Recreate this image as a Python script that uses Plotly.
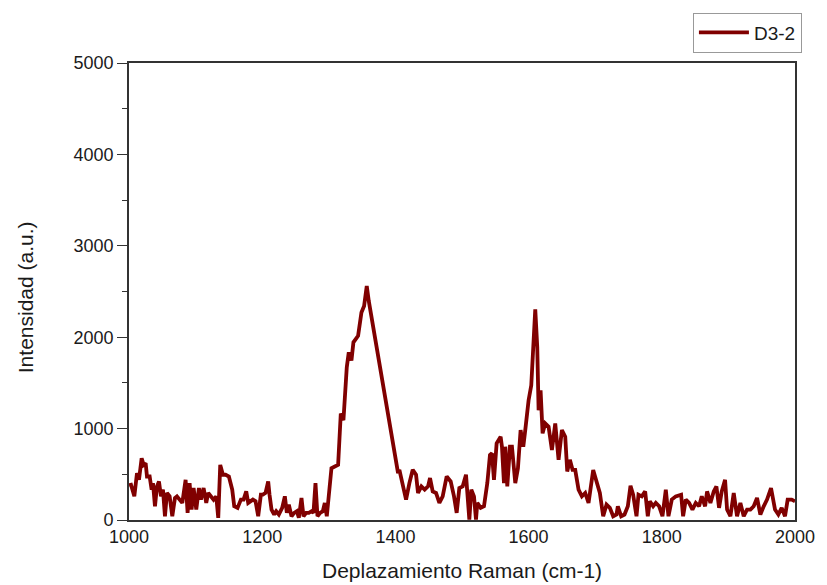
import plotly.graph_objects as go

# Raman shift (cm-1) and intensity (a.u.)
raman_shift = [
    1000, 1003, 1008, 1012, 1015, 1019, 1022, 1025, 1027, 1031, 1034, 1036, 1039, 1042, 1045, 1048,
    1051, 1054, 1057, 1061, 1065, 1069, 1072, 1076, 1080, 1085, 1088, 1091, 1094, 1097, 1101,
    1105, 1108, 1112, 1116, 1119, 1123, 1127, 1131, 1134, 1137, 1141, 1145, 1150, 1155, 1158,
    1163, 1168, 1172, 1176, 1179, 1183, 1186, 1190, 1194, 1198, 1201, 1205, 1209, 1211, 1214,
    1218, 1221, 1225, 1230, 1234, 1237, 1240, 1244, 1248, 1252, 1255, 1259, 1262, 1266, 1270,
    1274, 1277, 1280, 1283, 1287, 1291, 1294, 1297, 1304, 1309, 1314, 1318, 1322, 1327, 1330,
    1334, 1337, 1344, 1349, 1353, 1357, 1360, 1399, 1401, 1404, 1406, 1411, 1416, 1421, 1426,
    1431, 1434, 1439, 1444, 1449, 1452, 1456, 1461, 1466, 1471, 1477, 1483, 1488, 1492, 1496,
    1501, 1506, 1508, 1511, 1514, 1518, 1521, 1523, 1528, 1533, 1538, 1542, 1545, 1548, 1552,
    1558, 1560, 1563, 1565, 1568, 1572, 1575, 1580, 1584, 1588, 1592, 1595, 1600, 1604, 1607,
    1610, 1613, 1615, 1618, 1621, 1625, 1630, 1635, 1640, 1645, 1650, 1655, 1658, 1662, 1666,
    1670, 1675, 1680, 1685, 1690, 1697, 1702, 1707, 1712, 1717, 1722, 1727, 1732, 1734, 1739,
    1744, 1749, 1753, 1757, 1762, 1765, 1770, 1775, 1779, 1782, 1787, 1791, 1796, 1801, 1806,
    1810, 1815, 1821, 1829, 1832, 1836, 1841, 1846, 1851, 1856, 1860, 1865, 1868, 1873, 1878,
    1882, 1886, 1890, 1895, 1898, 1903, 1908, 1913, 1918, 1923, 1928, 1933, 1938, 1943, 1948,
    1953, 1958, 1964, 1970, 1975, 1980, 1985, 1989, 1995, 2000,
]
intensity = [
    380, 386, 259, 513, 440, 676, 603, 622, 476, 476, 332, 404, 150, 368, 422, 259,
    332, 41, 296, 259, 41, 241, 259, 223, 187, 440, 78, 404, 114, 350, 114,
    350, 223, 350, 187, 296, 259, 223, 259, 24, 603, 495, 495, 476, 332, 150,
    133, 223, 223, 313, 187, 205, 223, 205, 41, 277, 277, 296, 422, 277, 114,
    60, 96, 60, 133, 259, 78, 168, 41, 78, 96, 24, 241, 41, 78, 78,
    96, 78, 404, 41, 78, 96, 187, 41, 567, 585, 603, 1165, 1092, 1672, 1835,
    1745, 1944, 2016, 2270, 2342, 2560, 2397, 712, 585, 513, 549, 404, 223, 404, 549,
    495, 296, 368, 332, 368, 459, 313, 296, 187, 259, 476, 422, 259, 78, 350,
    368, 495, 296, 5, 332, 259, 5, 187, 133, 150, 404, 712, 730, 440, 839,
    911, 802, 404, 802, 368, 802, 802, 404, 567, 984, 802, 984, 1310, 1473, 1889,
    2306, 1889, 1201, 1419, 948, 1056, 1020, 766, 1056, 658, 984, 911, 531, 658, 549,
    549, 332, 259, 296, 187, 548, 422, 296, 41, 168, 133, 41, 60, 150, 41,
    60, 150, 375, 277, 41, 277, 259, 313, 41, 205, 150, 187, 150, 41, 332,
    41, 223, 259, 277, 41, 223, 187, 114, 187, 150, 259, 150, 313, 187, 313,
    368, 133, 313, 440, 114, 41, 296, 41, 187, 41, 114, 114, 150, 241, 60,
    150, 223, 350, 114, 60, 133, 41, 223, 223, 205,
]

series_name = "D3-2"
x_title = "Deplazamiento Raman (cm-1)"
y_title = "Intensidad (a.u.)"
x_ticks = [1000, 1200, 1400, 1600, 1800, 2000]
y_ticks = [0, 1000, 2000, 3000, 4000, 5000]

FONT = "Liberation Sans, Arial, sans-serif"
AXIS_COLOR = "#333333"
TEXT_COLOR = "#1a1a1a"

fig = go.Figure()
fig.add_trace(go.Scatter(
    x=raman_shift, y=intensity, mode="lines", name=series_name,
    line=dict(color="#800000", width=3.8),
))

fig.update_layout(
    width=827, height=585,
    margin=dict(l=129, r=27, t=60, b=65),
    paper_bgcolor="white", plot_bgcolor="white",
    font=dict(family=FONT, size=18, color=TEXT_COLOR),
    showlegend=True,
    legend=dict(
        x=1.0104, xanchor="right", y=1.1105, yanchor="top",
        bordercolor="#999999", borderwidth=1, bgcolor="white",
        font=dict(size=19, family=FONT, color=TEXT_COLOR),
        itemwidth=50, tracegroupgap=0,
    ),
    annotations=[
        dict(text=x_title, xref="paper", yref="paper", x=0.5, y=-0.1395,
             xanchor="center", yanchor="bottom", showarrow=False,
             font=dict(size=21, family=FONT, color=TEXT_COLOR)),
        dict(text=y_title, xref="paper", yref="paper", x=-0.155, y=0.487,
             xanchor="center", yanchor="middle", showarrow=False, textangle=-90,
             font=dict(size=21, family=FONT, color=TEXT_COLOR)),
    ],
)

fig.update_xaxes(
    range=[1000, 2000], tickvals=x_ticks, ticktext=[str(v) for v in x_ticks],
    ticks="", showgrid=False, zeroline=False,
    showline=True, linecolor=AXIS_COLOR, linewidth=1.6, mirror=True,
    tickfont=dict(size=18, family=FONT, color=TEXT_COLOR),
)
fig.update_yaxes(
    range=[0, 5000], tickvals=y_ticks, ticktext=[str(v) for v in y_ticks],
    ticks="outside", ticklen=10, tickwidth=1.4, tickcolor=AXIS_COLOR,
    minor=dict(ticks="outside", ticklen=5, tickwidth=1.2, tickcolor=AXIS_COLOR,
               dtick=500, tick0=0, showgrid=False),
    showgrid=False, zeroline=False,
    showline=True, linecolor=AXIS_COLOR, linewidth=1.6, mirror=True,
    tickfont=dict(size=18, family=FONT, color=TEXT_COLOR),
)

fig.write_html("out.html")
